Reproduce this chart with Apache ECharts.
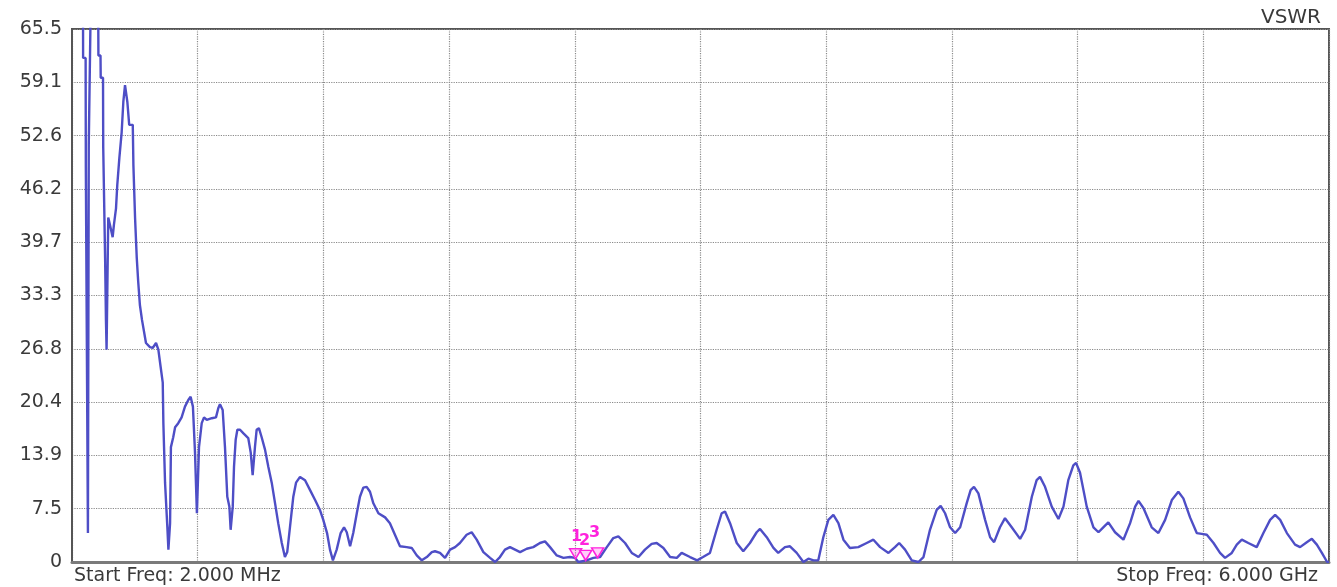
<!DOCTYPE html>
<html>
<head>
<meta charset="utf-8">
<script src="https://cdn.jsdelivr.net/npm/echarts@6/dist/echarts.min.js"></script>
<style>html,body{margin:0;padding:0;background:#fff}#c{width:1337px;height:587px}</style>
</head>
<body>
<div id="c"></div>
<script>
// Frequency (MHz) of each trace sample
var freqMHz = [2,54,55,67,68,77,78,80,82,88,95,126,128,138,139,150,151,158,160,163,164,167,
175,183,196,202,212,218,228,239,247,255,266,275,292,295,303,311,318,326,336,355,374,387,403,414,425,435,438,446,457,462,470,474,485,494,509,525,541,557,568,579,589,598,608,621,632,645,669,689,700,708,721,732,743,753,759,769,775,783,791,804,819,843,855,864,875,883,894,907,923,939,955,971,986,1003,1018,1029,1042,1058,1071,1090,1114,1138,1162,1185,1201,1219,1233,1247,1265,1284,1300,1313,1329,1344,1361,1376,1392,1408,1424,1440,1464,1496,1519,1543,1567,1599,1623,1647,1671,1695,1719,1734,1758,1782,1806,1830,1853,1885,1909,1933,1965,1997,2021,2044,2068,2092,2116,2140,2172,2203,2235,2259,2283,2315,2347,2378,2402,2418,2458,2490,2522,2554,2585,2609,2641,2673,2705,2736,2768,2792,2824,2856,2888,2911,2951,2985,3013,3046,3078,3102,3118,3142,3174,3205,3237,3269,3285,3317,3349,3372,3404,3428,3460,3492,3516,3540,3563,3587,3611,3635,3659,3683,3714,3754,3794,3826,3858,3898,3929,3949,3977,4009,4041,4065,4096,4128,4147,4168,4192,4216,4240,4271,4290,4306,4327,4359,4383,4402,4430,4454,4486,4526,4550,4582,4605,4621,4645,4677,4709,4733,4756,4780,4793,4812,4844,4876,4900,4923,4947,4979,5019,5051,5075,5091,5115,5154,5186,5218,5250,5281,5305,5337,5369,5393,5417,5449,5480,5504,5536,5560,5584,5615,5655,5687,5719,5743,5767,5799,5838,5862,5894,5918,5942,5966,5991,6000];
// VSWR of each trace sample (values above 65.5 are off-scale)
var vswr = [75,75,62.0,62.0,48.8,48.8,4.5,4.5,51.5,51.5,75,75,62.3,62.3,59.6,59.6,51.2,51.2,37.8,37.8,30.3,26.7,
42.7,41.8,40.3,41.8,43.8,46.6,49.9,53.0,56.7,58.7,56.7,53.9,53.9,49.0,42.6,37.8,34.9,32.1,30.3,27.5,27.0,26.9,27.5,26.7,24.6,22.7,17.8,10.6,5.2,2.5,5.7,14.9,16.1,17.3,17.8,18.5,19.8,20.6,21.0,19.8,14.2,6.9,14.9,17.8,18.5,18.2,18.4,18.5,19.6,20.1,19.4,14.9,8.9,7.7,4.9,7.7,12.5,15.8,17.0,17.0,16.6,16.0,14.2,11.5,14.9,17.0,17.2,16.1,14.6,12.5,10.6,8.1,5.7,3.3,1.6,2.2,5.2,8.9,10.6,11.3,10.9,9.7,8.5,7.3,6.1,4.5,2.5,1.2,2.5,4.5,5.2,4.6,2.9,4.5,6.9,8.9,10.0,10.1,9.5,8.1,6.9,6.4,5.7,4.3,2.9,2.8,2.7,1.8,1.2,1.6,2.2,2.3,2.1,1.5,2.5,2.8,3.3,4.3,4.6,3.7,2.2,1.5,1.0,1.6,2.5,2.8,2.5,2.2,2.6,2.8,3.3,3.5,2.8,1.8,1.5,1.6,1.5,1.0,1.2,1.5,1.6,2.8,3.9,4.1,3.3,2.1,1.6,2.5,3.2,3.3,2.7,1.6,1.5,2.1,1.6,1.2,1.6,2.1,4.9,6.9,7.1,5.7,3.3,2.3,3.3,4.6,5.0,4.0,2.7,2.1,2.8,2.9,2.1,1.0,1.4,1.2,1.2,4.0,6.1,6.7,5.7,3.7,2.7,2.8,3.3,3.7,2.8,2.1,2.8,3.3,2.5,1.2,1.0,1.6,4.9,7.3,7.8,6.9,5.2,4.5,5.2,8.1,9.7,10.1,9.3,6.1,4.0,3.4,5.2,6.3,5.2,3.8,4.9,8.9,10.9,11.3,10.1,7.7,6.2,7.7,10.9,12.7,13.0,11.8,7.7,5.2,4.6,5.2,5.8,4.6,3.7,5.7,7.7,8.4,7.5,5.2,4.5,6.1,8.5,9.5,8.7,6.4,4.5,4.4,4.3,3.3,2.1,1.5,2.1,3.1,3.7,3.3,2.8,4.5,6.1,6.7,6.1,4.5,3.1,2.8,3.4,3.8,3.1,2.1,1.0,1.0];
// Y tick positions and their printed labels
var yTickValues = [1,7.45,13.9,20.35,26.8,33.25,39.7,46.15,52.6,59.05,65.5];
var yTickLabels = ["0","7.5","13.9","20.4","26.8","33.3","39.7","46.2","52.6","59.1","65.5"];
// X division positions (MHz)
var xTickValues = [2,601.8,1201.6,1801.4,2401.2,3001,3600.8,4200.6,4800.4,5400.2,6000];
// Markers
var markerNames = ["1","2","3"];
var markerFreq = [2405,2453,2510];
var markerVswr = [1.4,1.2,1.5];

var FONT = '"DejaVu Sans", "Liberation Sans", Arial, sans-serif';
var trace = freqMHz.map(function (f, i) { return [f, vswr[i]]; });
var labelOffsets = [[1,2],[-1,4],[-3,-1]];
var marks = markerNames.map(function (n, i) {
  return {
    name: n, coord: [markerFreq[i], markerVswr[i]],
    label: { show: true, formatter: n, position: 'top', offset: labelOffsets[i], color: '#ff22dd', fontSize: 16, fontFamily: FONT, fontWeight: 'bold' }
  };
});

var chart = echarts.init(document.getElementById('c'), null, { renderer: 'canvas' });
chart.setOption({
  animation: false,
  backgroundColor: '#ffffff',
  grid: { left: 72, right: 8, top: 29, bottom: 25, show: true, borderColor: '#555555', borderWidth: 2, backgroundColor: '#ffffff' },
  xAxis: {
    type: 'value', min: 2, max: 6000,
    axisLine: { show: true, lineStyle: { color: '#7a7a7a', width: 3 } },
    axisTick: { show: false, customValues: xTickValues },
    axisLabel: { show: false, customValues: xTickValues },
    splitLine: { show: true, lineStyle: { type: 'dotted', color: '#8a8a8a', width: 1.2 } }
  },
  yAxis: {
    type: 'value', min: 1, max: 65.5,
    axisLine: { show: true, lineStyle: { color: '#555555', width: 2 } },
    axisTick: { show: false, customValues: yTickValues },
    axisLabel: {
      show: true, customValues: yTickValues, margin: 10,
      color: '#3a3a3a', fontSize: 19, fontFamily: FONT,
      formatter: function (v) {
        var best = 0, d = 1e9;
        for (var i = 0; i < yTickValues.length; i++) { var dd = Math.abs(yTickValues[i] - v); if (dd < d) { d = dd; best = i; } }
        return yTickLabels[best];
      }
    },
    splitLine: { show: true, lineStyle: { type: 'dotted', color: '#8a8a8a', width: 1.2 } }
  },
  series: [{
    type: 'line', data: trace, symbol: 'none', clip: true,
    lineStyle: { color: '#4e4ec6', width: 2.4 },
    markPoint: {
      symbol: 'triangle', symbolRotate: 180, symbolSize: [12, 10], symbolOffset: [0, -5],
      itemStyle: { color: 'rgba(255,60,230,0.25)', borderColor: '#ff22dd', borderWidth: 1.5 },
      data: marks
    }
  }],
  graphic: [
    { type: 'text', left: 74, top: 567, style: { text: 'Start Freq: 2.000 MHz', fill: '#3a3a3a', font: '19px ' + FONT } },
    { type: 'text', right: 19, top: 567, style: { text: 'Stop Freq: 6.000 GHz', fill: '#3a3a3a', font: '19px ' + FONT } },
    { type: 'text', right: 16, top: 8, style: { text: 'VSWR', fill: '#3a3a3a', font: '20px ' + FONT } }
  ]
});
</script>
</body>
</html>
